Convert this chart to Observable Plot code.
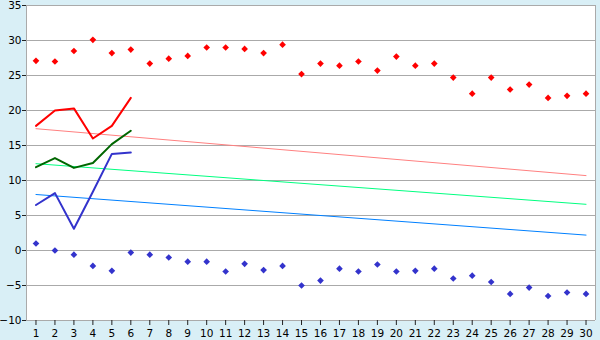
<!DOCTYPE html>
<html>
<head>
<meta charset="utf-8">
<script src="https://cdn.jsdelivr.net/npm/d3@7"></script>
<script src="https://cdn.jsdelivr.net/npm/@observablehq/plot@0.6"></script>
<style>
  html, body { margin: 0; padding: 0; background: #d9eff6; }
  svg { display: block; }
</style>
</head>
<body>
<div id="chart"></div>
<script>
const days = [1,2,3,4,5,6,7,8,9,10,11,12,13,14,15,16,17,18,19,20,21,22,23,24,25,26,27,28,29,30];
const yTicks = [-10,-5,0,5,10,15,20,25,30,35];

// record highs / lows per day (points)
const maxPoints = [27.1,27.0,28.5,30.1,28.2,28.7,26.7,27.4,27.8,29.0,29.0,28.8,28.2,29.4,25.2,26.7,26.4,27.0,25.7,27.7,26.4,26.7,24.7,22.4,24.7,23.0,23.7,21.8,22.1,22.4];
const minPoints = [1.0,0.0,-0.6,-2.2,-2.9,-0.3,-0.6,-1.0,-1.6,-1.6,-3.0,-1.9,-2.8,-2.2,-5.0,-4.3,-2.6,-3.0,-2.0,-3.0,-2.9,-2.6,-4.0,-3.6,-4.5,-6.2,-5.3,-6.5,-6.0,-6.2];

// observed values, days 1-6
const obsDays = [1,2,3,4,5,6];
const obsMax = [17.8,20.0,20.3,16.0,17.8,21.8];
const obsMean = [11.9,13.2,11.8,12.5,15.2,17.1];
const obsMin = [6.5,8.2,3.1,8.4,13.8,14.0];

// normals (straight lines, endpoints at day 1 and day 30)
const normDays = [1,30];
const normMax = [17.4,10.7];
const normMean = [12.4,6.6];
const normMin = [8.0,2.2];

const toXY = (xs, ys) => xs.map((x, i) => ({x, y: ys[i]}));

const chart = Plot.plot({
  width: 600,
  height: 340,
  marginLeft: 26,
  marginRight: 5,
  marginTop: 5,
  marginBottom: 20,
  style: {background: "#d9eff6", fontFamily: "DejaVu Sans", fontSize: "10px", color: "#000"},
  x: {domain: [0.5, 30.5], label: null},
  y: {domain: [-10, 35], label: null},
  marks: [
    Plot.frame({fill: "white", stroke: null}),
    Plot.gridY(yTicks, {stroke: "#aaaaaa", strokeOpacity: 1}),
    Plot.ruleX([0.5, 30.5], {stroke: "#aaaaaa"}),
    Plot.axisY({ticks: yTicks, label: null, tickSize: 4, tickPadding: 1, stroke: "#222", fontSize: 10.5}),
    Plot.axisX({ticks: days, label: null, tickFormat: d => d, tickSize: 5, tickPadding: 4, stroke: "#222", fontSize: 10.5}),
    Plot.line(toXY(normDays, normMax), {x: "x", y: "y", stroke: "#ff8080", strokeWidth: 1}),
    Plot.line(toXY(normDays, normMean), {x: "x", y: "y", stroke: "#00ff80", strokeWidth: 1}),
    Plot.line(toXY(normDays, normMin), {x: "x", y: "y", stroke: "#0080ff", strokeWidth: 1}),
    Plot.line(toXY(obsDays, obsMax), {x: "x", y: "y", stroke: "#ff0000", strokeWidth: 2}),
    Plot.line(toXY(obsDays, obsMean), {x: "x", y: "y", stroke: "#006600", strokeWidth: 2}),
    Plot.line(toXY(obsDays, obsMin), {x: "x", y: "y", stroke: "#3333cc", strokeWidth: 2}),
    Plot.dot(toXY(days, maxPoints), {x: "x", y: "y", symbol: "diamond2", r: 3, fill: "#ff0000", stroke: null}),
    Plot.dot(toXY(days, minPoints), {x: "x", y: "y", symbol: "diamond2", r: 3, fill: "#3333cc", stroke: null})
  ]
});
document.getElementById("chart").append(chart);
</script>
</body>
</html>
